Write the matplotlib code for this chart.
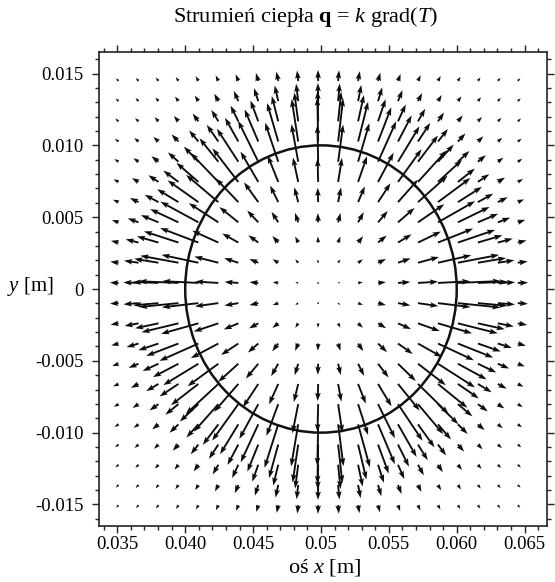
import numpy as np
import matplotlib
matplotlib.use("Agg")
import matplotlib.pyplot as plt
from matplotlib.patches import Circle
from matplotlib.ticker import FixedLocator, FixedFormatter, MultipleLocator

plt.rcParams.update({
    "font.family": "Liberation Serif",
    "mathtext.fontset": "custom",
    "mathtext.rm": "Liberation Serif",
    "mathtext.it": "Liberation Serif:italic",
    "mathtext.bf": "Liberation Serif:bold",
    "font.size": 13.5,
})

# Sampling grid of the flux field [m]
grid_x = [0.035088, 0.036559, 0.038029, 0.039500, 0.040970, 0.042441, 0.043912,
          0.045382, 0.046853, 0.048323, 0.049794, 0.051265, 0.052735, 0.054206,
          0.055676, 0.057147, 0.058618, 0.060088, 0.061559, 0.063029, 0.064500]
grid_y = [0.014487, 0.013081, 0.011674, 0.010268, 0.008861, 0.007455, 0.006048,
          0.004642, 0.003235, 0.001829, 0.000422, -0.000984, -0.002391, -0.003797,
          -0.005204, -0.006610, -0.008017, -0.009423, -0.010830, -0.012236,
          -0.013643, -0.015049]

# Radial profile of the heat-flux magnitude (relative units) vs distance [mm]
radius_mm = [0.0, 2.0, 3.5, 5.0, 6.5, 8.0, 9.0, 10.0, 11.0, 12.0, 13.0, 14.0,
             15.0, 16.0, 18.0, 21.0, 24.0]
flux_rel = [0.0, 8.0, 14.0, 22.0, 35.0, 60.0, 82.0, 100.0, 82.0, 58.0, 40.0,
            28.0, 19.0, 14.0, 10.0, 8.0, 7.0]

# Boundary of the heated region
circle_center = (0.05, 0.0)
circle_radius = 0.01

xtick_values = [0.035, 0.040, 0.045, 0.050, 0.055, 0.060, 0.065]
xtick_labels = ["0.035", "0.040", "0.045", "0.05", "0.055", "0.060", "0.065"]
ytick_values = [0.015, 0.010, 0.005, 0.0, -0.005, -0.010, -0.015]
ytick_labels = ["0.015", "0.010", "0.005", "0", "-0.005", "-0.010", "-0.015"]

X, Y = np.meshgrid(grid_x, grid_y)
dx = X - circle_center[0]
dy = Y - circle_center[1]
r = np.hypot(dx, dy)
mag = np.interp(r * 1000.0, radius_mm, flux_rel)
U = mag * dx / r
V = mag * dy / r

fig = plt.figure(figsize=(5.55, 5.82), dpi=100)
ax = fig.add_axes([99 / 555, 1 - 526 / 582, 448 / 555, 474 / 582])

ax.quiver(X, Y, U, V, angles="xy", scale_units="xy", scale=31000,
          pivot="tail", width=0.0042, headwidth=3.0, headlength=4.4,
          headaxislength=3.8, color="#0d0d0d", zorder=2)

ax.add_patch(Circle(circle_center, circle_radius, fill=False,
                    edgecolor="#111111", linewidth=1.8, zorder=3))

ax.set_xlim(0.03365, 0.06665)
ax.set_ylim(-0.0165, 0.0165)

ax.xaxis.set_major_locator(FixedLocator(xtick_values))
ax.xaxis.set_major_formatter(FixedFormatter(xtick_labels))
ax.yaxis.set_major_locator(FixedLocator(ytick_values))
ax.yaxis.set_major_formatter(FixedFormatter(ytick_labels))
ax.xaxis.set_minor_locator(MultipleLocator(0.001))
ax.yaxis.set_minor_locator(MultipleLocator(0.001))

ax.tick_params(which="both", direction="out", top=True, right=True,
               labeltop=False, labelright=False, width=1.0, color="#222222")
ax.tick_params(which="major", length=5, labelsize=13.5)
ax.tick_params(axis="x", which="major", pad=2)
ax.tick_params(axis="y", which="major", pad=6)
ax.tick_params(which="minor", length=3)

for sp in ax.spines.values():
    sp.set_linewidth(1.2)
    sp.set_color("#222222")

fig.text(306 / 555, 1 - 17 / 582,
         r"Strumień ciepła $\mathbf{q}$ = $k$ grad($T$)",
         ha="center", va="center", fontsize=16)
fig.text(325 / 555, 1 - 568 / 582, r"oś $x$ [m]",
         ha="center", va="center", fontsize=16)
fig.text(30 / 555, 1 - 287 / 582, r"$y$ [m]",
         ha="center", va="center", fontsize=15)

fig.savefig("out.png", dpi=100)
